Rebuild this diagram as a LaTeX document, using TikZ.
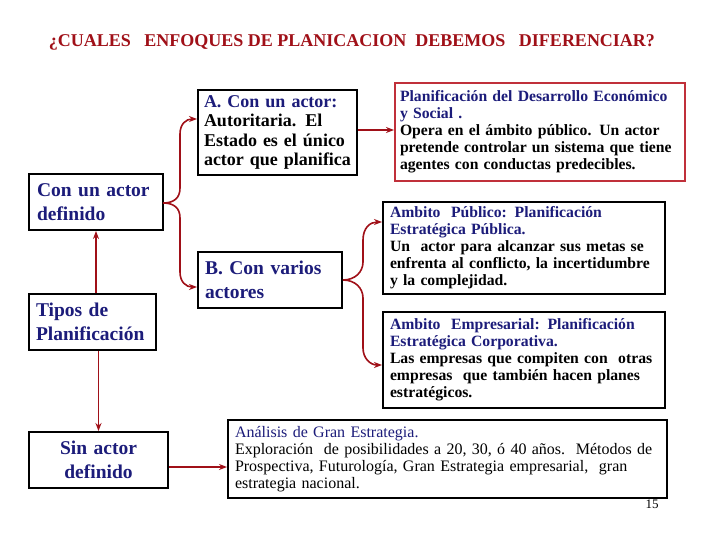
\documentclass[tikz,border=0pt]{standalone}
\usepackage{fontspec}
\setmainfont{Liberation Serif}
\usetikzlibrary{arrows.meta}
\definecolor{navy}{HTML}{1C1C7A}
\definecolor{dred}{HTML}{A01018}
\definecolor{bred}{HTML}{C0303A}
\tikzset{
  box/.style={draw=black, line width=2pt, inner ysep=3pt, align=left, text=navy},
  bigfont/.style={font=\bfseries\fontsize{19.5}{23.5}\selectfont},
  midfont/.style={font=\bfseries\fontsize{18}{19.5}\selectfont},
  smallfont/.style={font=\bfseries\fontsize{15.7}{17}\selectfont},
  conn/.style={draw=dred, line width=1.6pt, -{Stealth[length=8pt,width=6pt]}}
}
\begin{document}
\begin{tikzpicture}[x=1pt,y=-1pt]
\useasboundingbox (0,0) rectangle (720,540);
\fill[white] (0,0) rectangle (720,540);

\node[text=dred, font=\bfseries\fontsize{18}{20}\selectfont] (title) at (352,42) {¿CUALES\ \ \ ENFOQUES DE PLANICACION\ \ DEBEMOS\ \ \ DIFERENCIAR?};

% left column
\node[box, bigfont, inner xsep=8pt, minimum width=134pt, minimum height=56pt, text width=118pt] (con) at (96,202) {Con un actor\\definido};
\node[box, bigfont, inner xsep=7pt, minimum width=127pt, minimum height=56pt, text width=113pt] (tipos) at (92.5,322) {Tipos de\\Planificación};
\node[box, bigfont, inner xsep=7pt, minimum width=139pt, minimum height=56pt, text width=125pt, align=center] (sin) at (98.5,460) {Sin actor\\definido};

% middle
\node[box, midfont, inner xsep=6pt, minimum width=159pt, minimum height=85pt, text width=147pt] (a) at (277.5,132.5) {A. Con un actor:\\\textcolor{black}{Autoritaria. El}\\\textcolor{black}{Estado es el único}\\\textcolor{black}{actor que planifica}};
\node[box, bigfont, inner xsep=7pt, minimum width=144pt, minimum height=56pt, text width=130pt] (b) at (270,280) {B. Con varios\\actores};

% right
\node[box, smallfont, draw=bred, inner xsep=5pt, minimum width=290pt, minimum height=98pt, text width=280pt] (pd) at (540,132) {Planificación del Desarrollo Económico\\y Social .\\\textcolor{black}{Opera en el ámbito público. Un actor}\\\textcolor{black}{pretende controlar un sistema que tiene}\\\textcolor{black}{agentes con conductas predecibles.}};
\node[box, smallfont, inner xsep=7pt, minimum width=282pt, minimum height=92pt, text width=268pt] (pub) at (524,248) {Ambito\ \ Público: Planificación\\Estratégica Pública.\\\textcolor{black}{Un\ \ actor para alcanzar sus metas se}\\\textcolor{black}{enfrenta al conflicto, la incertidumbre}\\\textcolor{black}{y la complejidad.}};
\node[box, smallfont, inner xsep=7pt, minimum width=282pt, minimum height=96pt, text width=268pt] (emp) at (524,360) {Ambito\ \ Empresarial: Planificación\\Estratégica Corporativa.\\\textcolor{black}{Las empresas que compiten con\ \ otras}\\\textcolor{black}{empresas\ \ que también hacen planes}\\\textcolor{black}{estratégicos.}};
\node[box, font=\fontsize{16}{17}\selectfont, inner xsep=7pt, minimum width=439pt, minimum height=78pt, text width=425pt] (gran) at (447.5,459) {Análisis de Gran Estrategia.\\\textcolor{black}{Exploración\ \ de posibilidades a 20, 30, ó 40 años.\ \ Métodos de}\\\textcolor{black}{Prospectiva, Futurología, Gran Estrategia empresarial,\ \ gran}\\\textcolor{black}{estrategia nacional.}};
\node[font=\fontsize{13}{14}\selectfont, inner sep=0pt] (num) at (652,504) {15};

% connectors
\draw[conn] (tipos.north -| con.south) -- (con.south);
\draw[conn] (tipos.south -| sin.north) -- (sin.north);
\draw[conn] (sin.east |- 0,467) -- (gran.west |- 0,467);
\draw[conn] (a.east |- 0,130) -- (pd.west |- 0,130);

\coordinate (t1) at (163,203);
\draw[conn] (t1) .. controls (174,203) and (180,198) .. (180,188) -- (180,134) .. controls (180,124) and (186,119) .. (a.west |- 0,119);
\draw[conn] (t1) .. controls (174,203) and (180,208) .. (180,218) -- (180,272) .. controls (180,282) and (186,287) .. (b.west |- 0,287);

\coordinate (t2) at (343,280);
\draw[conn] (t2) .. controls (355,280) and (363,272) .. (363,262) -- (363,240) .. controls (363,228) and (370,222) .. (pub.west |- 0,222);
\draw[conn] (t2) .. controls (355,280) and (363,288) .. (363,298) -- (363,348) .. controls (363,358) and (370,365) .. (emp.west |- 0,365);
\end{tikzpicture}
\end{document}
